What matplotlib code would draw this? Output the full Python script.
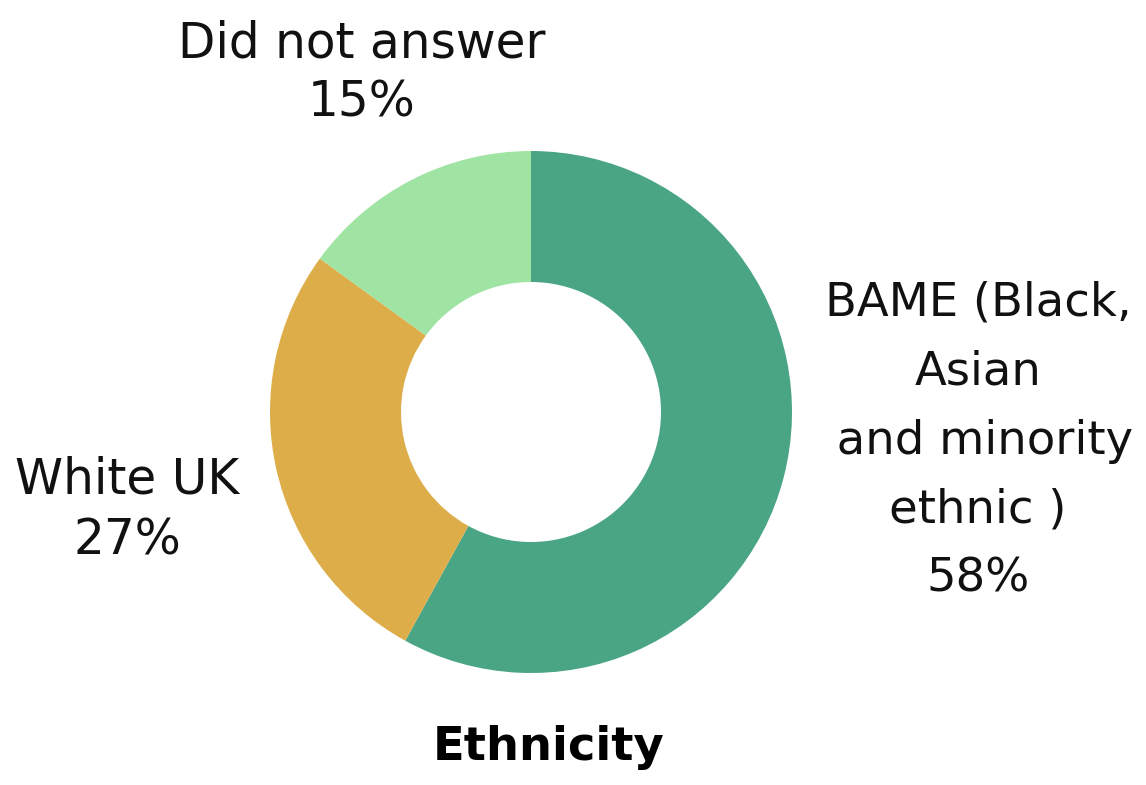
import matplotlib.pyplot as plt

# chart data
categories = ["BAME (Black,\nAsian\n and minority\nethnic )", "White UK", "Did not answer"]
shares = [58, 27, 15]
colors = ["#4AA584", "#DDAD4A", "#A0E4A4"]
title = "Ethnicity"

W, H = 1146, 785
fig = plt.figure(figsize=(W / 100, H / 100), dpi=100)
ax = fig.add_axes([0, 0, 1, 1])

cx, cy = 531, H - 412
ax.pie(
    shares,
    colors=colors,
    startangle=90,
    counterclock=False,
    center=(cx, cy),
    radius=261,
    wedgeprops=dict(width=131, linewidth=0),
    frame=True,
)
ax.set_xlim(0, W)
ax.set_ylim(0, H)
ax.set_aspect("equal")
ax.axis("off")

font = "DejaVu Sans"
lab = dict(ha="center", va="center", family=font, color="#111111")

ax.text(362, H - 73, f"{categories[2]}\n{shares[2]}%", fontsize=35, linespacing=1.27, **lab)
ax.text(127, H - 510, f"{categories[1]}\n{shares[1]}%", fontsize=35, linespacing=1.32, **lab)
ax.text(978, H - 441, f"{categories[0]}\n{shares[0]}%", fontsize=33.5, linespacing=1.69, **lab)

ax.text(549, H - 748, title, fontsize=33.5, fontweight="bold", ha="center",
        va="center", family=font, color="black")

fig.savefig("out.png", dpi=100)
